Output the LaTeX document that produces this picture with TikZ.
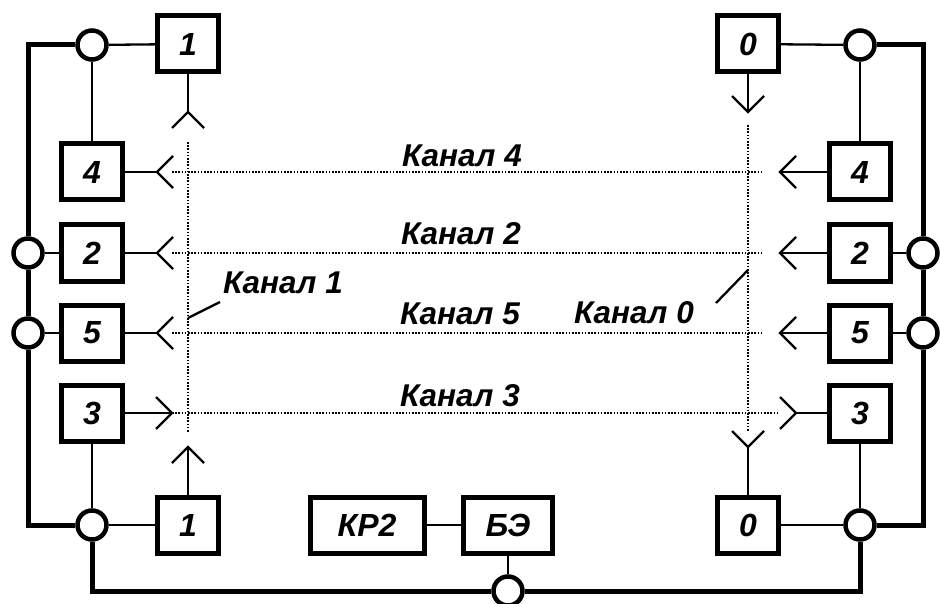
\documentclass[tikz,border=0pt]{standalone}
\usepackage{fontspec}
\setmainfont{Liberation Sans}

\tikzset{
  blok/.style={draw, line width=5pt, minimum width=61pt, minimum height=56pt, inner sep=0pt,
    font=\fontsize{32}{34}\selectfont\bfseries\itshape},
  uzel/.style={draw, circle, line width=4.5pt, fill=white, minimum size=29pt, inner sep=0pt},
  shina/.style={line width=5pt},
  svyaz/.style={line width=2.3pt},
  kanal/.style={line width=1.6pt, dash pattern=on 1.6pt off 1.6pt},
  metka/.style={font=\fontsize{31.5}{34}\selectfont\bfseries\itshape, inner sep=0pt},
  vee/.pic={\draw[svyaz] (-16,-16) -- (0,0) -- (-16,16);}
}

\begin{document}
\begin{tikzpicture}[x=1pt, y=-1pt]
	\useasboundingbox (0,0) rectangle (940,604);
	% kanaly
	\foreach \y/\r in {172/762, 253/762, 333/762, 413/778}
		\draw[kanal] (172,\y) -- (\r,\y);
	\draw[kanal] (188,142) -- (188,432);
	\draw[kanal] (748,125) -- (748,432);
	% bloki
	\node[blok] (t1) at (188,44) {1};
	\node[blok] (t0) at (748,44) {0};
	\node[blok] (l4) at (92,172) {4};
	\node[blok] (l2) at (92,253) {2};
	\node[blok] (l5) at (92,333) {5};
	\node[blok] (l3) at (92,413) {3};
	\node[blok] (r4) at (860,172) {4};
	\node[blok] (r2) at (860,253) {2};
	\node[blok] (r5) at (860,333) {5};
	\node[blok] (r3) at (860,413) {3};
	\node[blok] (b1) at (188,525) {1};
	\node[blok] (b0) at (748,525) {0};
	\node[blok, minimum width=114pt] (kr) at (367,525) {КР2};
	\node[blok, minimum width=89pt] (be) at (508,525) {БЭ};
	% uzly
	\node[uzel] (ct1) at (92,45) {};
	\node[uzel] (ct0) at (860,45) {};
	\node[uzel] (cl2) at (28,253) {};
	\node[uzel] (cl5) at (28,333) {};
	\node[uzel] (cr2) at (923,253) {};
	\node[uzel] (cr5) at (923,333) {};
	\node[uzel] (cb1) at (92,525) {};
	\node[uzel] (cb0) at (860,525) {};
	\node[uzel] (cbe) at (508,591) {};
	% shiny
	\draw[shina] (ct1) -| (cl2) -- (cl5) |- (cb1);
	\draw[shina] (ct0) -| (cr2) -- (cr5) |- (cb0);
	\draw[shina] (cb1) |- (cbe) -| (cb0);
	% svyazi
	\draw[svyaz] (ct1) -- (t1);
	\draw[svyaz] (ct1) -- (l4);
	\draw[svyaz] (cl2) -- (l2);
	\draw[svyaz] (cl5) -- (l5);
	\draw[svyaz] (l3) -- (cb1);
	\draw[svyaz] (cb1) -- (b1);
	\draw[svyaz] (ct0) -- (t0);
	\draw[svyaz] (ct0) -- (r4);
	\draw[svyaz] (cr2) -- (r2);
	\draw[svyaz] (cr5) -- (r5);
	\draw[svyaz] (r3) -- (cb0);
	\draw[svyaz] (cb0) -- (b0);
	\draw[svyaz] (kr) -- (be);
	\draw[svyaz] (be) -- (cbe);
	% antenny
	\coordinate (at1) at (188,112);
	\coordinate (at0) at (748,112);
	\coordinate (ab1) at (188,447);
	\coordinate (ab0) at (748,447);
	\coordinate (al3) at (172,413);
	\coordinate (ar3) at (796,413);
	\draw[svyaz] (t1) -- (at1); \pic[rotate=90] at (at1) {vee};
	\draw[svyaz] (t0) -- (at0); \pic[rotate=270] at (at0) {vee};
	\draw[svyaz] (b1) -- (ab1); \pic[rotate=90] at (ab1) {vee};
	\draw[svyaz] (b0) -- (ab0); \pic[rotate=270] at (ab0) {vee};
	\draw[svyaz] (l3) -- (al3); \pic at (al3) {vee};
	\draw[svyaz] (r3) -- (ar3); \pic at (ar3) {vee};
	\foreach \n/\y in {4/172, 2/253, 5/333} {
		\draw[svyaz] (l\n) -- (157,\y); \pic[rotate=180] at (157,\y) {vee};
		\draw[svyaz] (r\n) -- (780,\y); \pic[rotate=180] at (780,\y) {vee};
	}
	% nadpisi
	\node[metka] (k4) at (462,156) {Канал 4};
	\node[metka] (k2) at (461,234) {Канал 2};
	\node[metka] (k1) at (283,283) {Канал 1};
	\node[metka] (k5) at (460,314) {Канал 5};
	\node[metka] (k3) at (460,396) {Канал 3};
	\node[metka] (k0) at (634,313) {Канал 0};
	\draw[svyaz] (188,318) -- (220,302);
	\draw[svyaz] (748,270) -- (716,303);
\end{tikzpicture}
\end{document}
